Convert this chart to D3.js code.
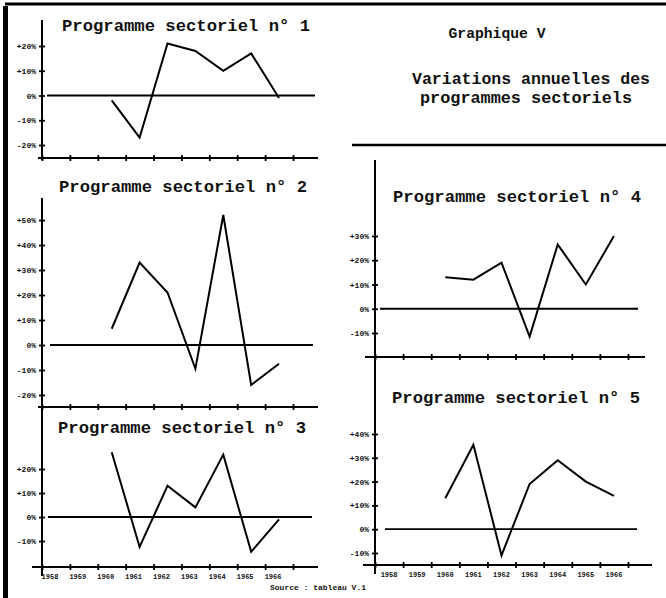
<!DOCTYPE html>
<html>
<head>
<meta charset="utf-8">
<script src="https://cdn.jsdelivr.net/npm/d3@7"></script>
<style>
  body { margin: 0; background: #fff; }
  svg { display: block; }
  text { font-family: "Liberation Mono", "DejaVu Sans Mono", monospace; font-weight: bold; fill: #111; }
</style>
</head>
<body>
<svg></svg>
<script>
var width = 666
var height = 598

// years on the x axis, and the years that carry a value
var years = ["1958", "1959", "1960", "1961", "1962", "1963", "1964", "1965", "1966"]
var dataYears = ["1960", "1961", "1962", "1963", "1964", "1965", "1966"]

// annual variation, %
var prog1 = [-2, -17, 21, 18, 10, 17, -1]
var prog2 = [6.5, 33, 21, -9.5, 52, -16, -7.5]
var prog3 = [27, -12.5, 13, 4, 26, -14.5, -1]
var prog4 = [13, 12, 19, -11.5, 26.5, 10, 30]
var prog5 = [13, 35.5, -11, 19, 29, 20, 14]

var ticks1 = [-20, -10, 0, 10, 20]
var ticks2 = [-20, -10, 0, 10, 20, 30, 40, 50]
var ticks3 = [-10, 0, 10, 20]
var ticks4 = [-10, 0, 10, 20, 30]
var ticks5 = [-10, 0, 10, 20, 30, 40]

var titles = ["Programme sectoriel n° 1", "Programme sectoriel n° 2", "Programme sectoriel n° 3",
              "Programme sectoriel n° 4", "Programme sectoriel n° 5"]

var panels = [
  {title: titles[0], data: prog1, ticks: ticks1, domain: [-20, 20], yr: [145, 46], xr: [42, 293],
   axTop: 20, axBot: 160, axY: 158, axX: [38, 318], zeroX: [47, 315], tx: 62, ty: 31},
  {title: titles[1], data: prog2, ticks: ticks2, domain: [-20, 50], yr: [395, 220], xr: [42, 293],
   axTop: 198, axBot: 409, axY: 407, axX: [38, 318], zeroX: [50, 313], tx: 59, ty: 192},
  {title: titles[2], data: prog3, ticks: ticks3, domain: [-10, 20], yr: [541, 469], xr: [42, 293],
   axTop: 409, axBot: 576, axY: 567, axX: [32, 318], zeroX: [48, 312], tx: 58, ty: 433, labels: true, ldx: -6},
  {title: titles[3], data: prog4, ticks: ticks4, domain: [-10, 30], yr: [333, 236], xr: [375, 628],
   axTop: 160, axBot: 359, axY: 357, axX: [365, 645], zeroX: [380, 638], tx: 393, ty: 202},
  {title: titles[4], data: prog5, ticks: ticks5, domain: [-10, 40], yr: [553, 434], xr: [375, 628],
   axTop: 359, axBot: 574, axY: 565, axX: [363, 652], zeroX: [385, 637], tx: 392, ty: 403, labels: true, ldx: 0}
]

const svg = d3.select("svg")
  .attr("width", width)
  .attr("height", height)
  .attr("viewBox", [0, 0, width, height])

// frame of the page
svg.append("line").attr("x1", 5).attr("x2", 666).attr("y1", 4).attr("y2", 4)
  .attr("stroke", "#000").attr("stroke-width", 3)
svg.append("line").attr("x1", 5.5).attr("x2", 5.5).attr("y1", 6).attr("y2", 598)
  .attr("stroke", "#000").attr("stroke-width", 5)

// header block
svg.append("text").attr("x", 497).attr("y", 38).attr("text-anchor", "middle")
  .attr("font-size", 15).attr("textLength", 97).attr("lengthAdjust", "spacingAndGlyphs")
  .text("Graphique V")
svg.append("text").attr("x", 531).attr("y", 84).attr("text-anchor", "middle")
  .attr("font-size", 16).attr("textLength", 238).attr("lengthAdjust", "spacingAndGlyphs")
  .text("Variations annuelles des")
svg.append("text").attr("x", 526).attr("y", 103).attr("text-anchor", "middle")
  .attr("font-size", 16).attr("textLength", 212).attr("lengthAdjust", "spacingAndGlyphs")
  .text("programmes sectoriels")
svg.append("line").attr("x1", 352).attr("x2", 666).attr("y1", 145).attr("y2", 145)
  .attr("stroke", "#000").attr("stroke-width", 2.5)

var fmt = d => (d > 0 ? "+" : d < 0 ? "-" : "") + Math.abs(d) + "%"

panels.forEach(function(p) {
  var g = svg.append("g")

  var x = d3.scaleBand().domain(years).range(p.xr)
  var y = d3.scaleLinear().domain(p.domain).range(p.yr)
  var edge = d3.scaleLinear().domain([0, years.length]).range(p.xr)

  // title
  g.append("text").attr("x", p.tx).attr("y", p.ty)
    .attr("font-size", 17).attr("textLength", 248).attr("lengthAdjust", "spacingAndGlyphs")
    .text(p.title)

  // vertical axis line
  g.append("line").attr("x1", p.xr[0]).attr("x2", p.xr[0]).attr("y1", p.axTop).attr("y2", p.axBot)
    .attr("stroke", "#000").attr("stroke-width", 2)

  var ya = g.append("g").attr("transform", `translate(${p.xr[0]},0)`)
    .call(d3.axisLeft(y).tickValues(p.ticks).tickFormat(fmt).tickSize(3).tickPadding(3))
  ya.select(".domain").remove()
  ya.selectAll(".tick line").attr("x1", 3).attr("stroke-width", 1.8)
  ya.selectAll(".tick text").attr("font-size", 8).attr("font-family", "Liberation Mono").attr("font-weight", "bold")

  // horizontal axis
  g.append("line").attr("x1", p.axX[0]).attr("x2", p.axX[1]).attr("y1", p.axY).attr("y2", p.axY)
    .attr("stroke", "#000").attr("stroke-width", 2)
  var xa = g.append("g").attr("transform", `translate(0,${p.axY})`)
    .call(d3.axisBottom(edge).tickValues(d3.range(0, years.length + 1)).tickFormat("").tickSize(3))
  xa.select(".domain").remove()
  xa.selectAll(".tick line").attr("y1", -3).attr("stroke-width", 1.8)

  if (p.labels) {
    g.selectAll(".yl").data(years).enter().append("text")
      .attr("x", d => x(d) + x.bandwidth() / 2 + p.ldx)
      .attr("y", p.axY + 12)
      .attr("text-anchor", "middle")
      .attr("font-size", 7)
      .text(d => d)
  }

  // zero line
  g.append("line").attr("x1", p.zeroX[0]).attr("x2", p.zeroX[1]).attr("y1", y(0)).attr("y2", y(0))
    .attr("stroke", "#000").attr("stroke-width", 1.8)

  // the series
  var line = d3.line()
    .x((d, i) => x(dataYears[i]) + x.bandwidth() / 2)
    .y(d => y(d))
  g.append("path").datum(p.data)
    .attr("d", line)
    .attr("fill", "none")
    .attr("stroke", "#000")
    .attr("stroke-width", 2)
    .attr("stroke-linejoin", "miter")
})

svg.append("text").attr("x", 318).attr("y", 590).attr("text-anchor", "middle")
  .attr("font-size", 8).text("Source : tableau V.1")
</script>
</body>
</html>
